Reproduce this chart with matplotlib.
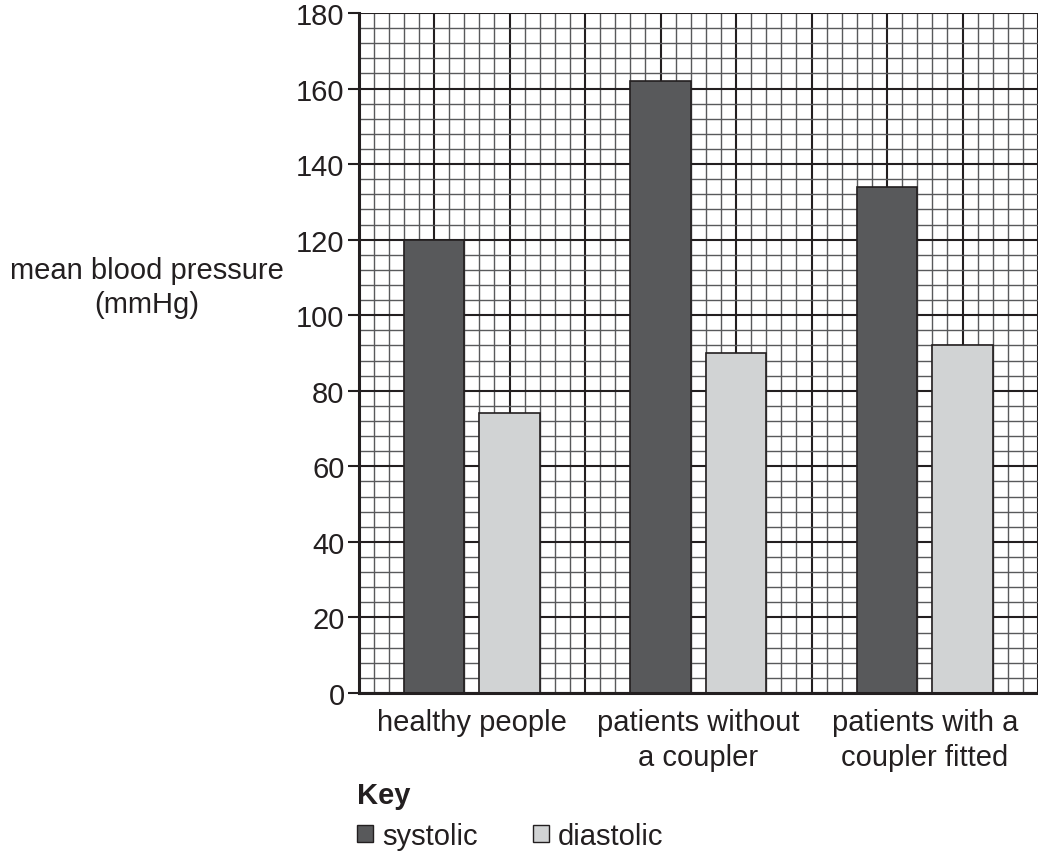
import matplotlib.pyplot as plt
from matplotlib.ticker import MultipleLocator
from matplotlib.patches import Patch

plt.rcParams['font.family'] = ['Liberation Sans', 'DejaVu Sans']

groups = ['healthy people', 'patients without\na coupler', 'patients with a\ncoupler fitted']
systolic = [120, 162, 134]
diastolic = [74, 90, 92]

dark = '#58595b'
light = '#d1d3d4'
ink = '#231f20'
fs = 21

fig = plt.figure(figsize=(10.38, 8.54), dpi=100)
ax = fig.add_axes([358.5 / 1038, 160 / 854, 1 - 358.5 / 1038, 680 / 854])

# x measured in grid squares, 15 squares per group
centres = [7.5 + 15 * i for i in range(len(groups))]
ax.bar([c - 2.5 for c in centres], systolic, width=4, color=dark, edgecolor=ink, linewidth=1.2, zorder=2)
ax.bar([c + 2.5 for c in centres], diastolic, width=4, color=light, edgecolor=ink, linewidth=1.2, zorder=2)

ax.set_xlim(0, 45)
ax.set_ylim(0, 180)

# graph paper
for xv in range(0, 46):
    ax.axvline(xv, color=ink if xv % 5 == 0 else '#58595b',
               linewidth=1.5 if xv % 5 == 0 else 1.0, zorder=0.5)
for yv in range(0, 181, 4):
    ax.axhline(yv, color=ink if yv % 20 == 0 else '#58595b',
               linewidth=1.5 if yv % 20 == 0 else 1.0, zorder=0.5)

ax.yaxis.set_major_locator(MultipleLocator(20))
ax.set_xticks(centres, labels=groups, fontsize=fs, linespacing=1.3)
ax.tick_params(axis='x', length=0, pad=11)
ax.tick_params(axis='y', direction='out', length=8, width=1.5, labelsize=fs, pad=2, colors=ink)
ax.tick_params(axis='x', colors=ink)

for s in ['top', 'right']:
    ax.spines[s].set_visible(False)
for s in ['left', 'bottom']:
    ax.spines[s].set_linewidth(2.2)
    ax.spines[s].set_color(ink)
    ax.spines[s].set_zorder(3)

fig.text(147 / 1038, 1 - 288 / 854, 'mean blood pressure\n(mmHg)', ha='center', va='center',
         fontsize=fs, linespacing=1.25, color=ink)

fig.text(357 / 1038, 1 - 796 / 854, 'Key', ha='left', va='center', fontsize=fs, fontweight='bold',
         color=ink)
handles = [Patch(facecolor=dark, edgecolor=ink, linewidth=1, label='systolic'),
           Patch(facecolor=light, edgecolor=ink, linewidth=1, label='diastolic')]
fig.legend(handles=handles, loc='center left', bbox_to_anchor=(357 / 1038, 1 - 837 / 854), ncol=2,
           frameon=False, fontsize=fs, handlelength=0.55, handleheight=0.55, handletextpad=0.3,
           columnspacing=1.9, borderpad=0, borderaxespad=0, labelcolor=ink)

fig.savefig('out.png', dpi=100)
